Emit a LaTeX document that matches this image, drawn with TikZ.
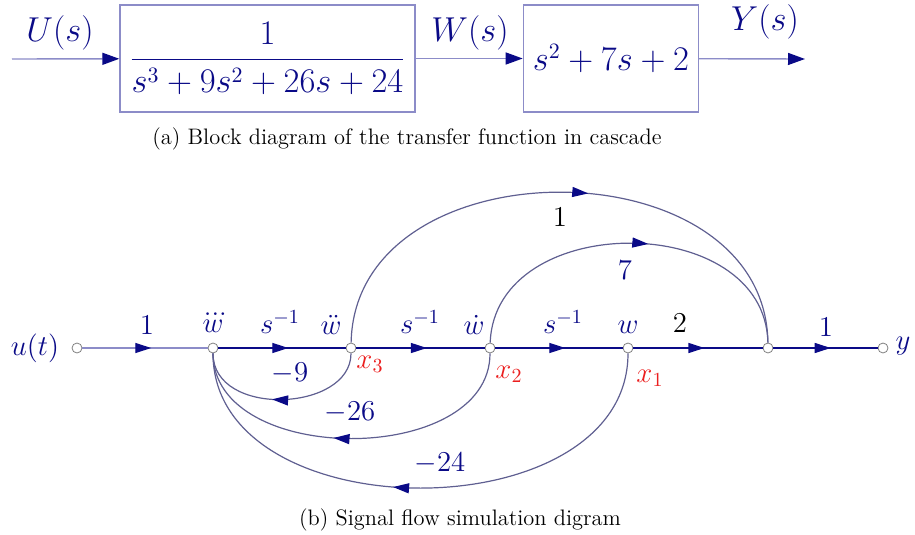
\documentclass[tikz,border=0pt]{standalone}
\usepackage{amsmath}
\usetikzlibrary{arrows.meta,decorations.markings,positioning}
\definecolor{NavyInk}{RGB}{10,10,135}
\definecolor{BoxLine}{RGB}{140,140,200}
\definecolor{ArcLine}{RGB}{95,95,145}
\definecolor{StateRed}{RGB}{235,30,30}
\tikzset{
  blk/.style={draw=BoxLine,line width=0.7pt,minimum height=53.5pt,inner sep=0pt,
              text=NavyInk,font=\fontsize{16}{19}\selectfont},
  sig/.style={circle,draw=gray,fill=white,line width=0.4pt,minimum size=5pt,inner sep=0pt},
  lbl/.style={text=NavyInk,font=\fontsize{14}{16}\selectfont,inner sep=0pt},
  big/.style={text=NavyInk,font=\fontsize{17}{20}\selectfont,inner sep=0pt},
  st/.style={text=StateRed,font=\fontsize{14}{16}\selectfont,inner sep=0pt},
  captxt/.style={font=\fontsize{11.2}{13}\selectfont},
  arr/.style={-{Triangle[length=8.5pt,width=6pt,color=NavyInk]},draw=BoxLine,line width=0.7pt},
  flow/.style={draw=#1,line width=0.6pt,postaction={decorate},
               decoration={markings,mark=at position 0.55 with
               {\arrow{Triangle[length=8pt,width=5pt,color=NavyInk]}}}},
  flow/.default=NavyInk,
}

\begin{document}
\begin{tikzpicture}[x=0.5pt,y=-0.5pt]
\useasboundingbox (0,0) rectangle (915,535);

% (a) cascade of two blocks
\coordinate (in) at (12,59);
\node[blk,minimum width=147.5pt] (den) at (267.5,58.5) {$\dfrac{1}{s^3+9s^2+26s+24}$};
\node[blk,minimum width=87.5pt,right=53.5pt of den] (num) {$s^2+7s+2$};
\coordinate (out) at (805,59);
\draw[arr] (in)--(den);
\draw[arr] (den)--(num);
\draw[arr] (num)--(out);
\node[big] (U) at (60,33) {$U(s)$};
\node[big] (W) at (470,33) {$W(s)$};
\node[big] (Y) at (765,22) {$Y(s)$};
\node[captxt] (capa) at (407,139) {(a) Block diagram of the transfer function in cascade};

% (b) signal flow graph
\node[sig] (u) at (77,348) {};
\node[sig] (n1) at (213,348) {};
\node[sig] (n2) at (351,348) {};
\node[sig] (n3) at (490,348) {};
\node[sig] (n4) at (628,348) {};
\node[sig] (sum) at (768,348) {};
\node[sig] (yo) at (883,348) {};

\draw[flow=BoxLine] (u)--(n1);
\draw[flow] (n1)--(n2);
\draw[flow] (n2)--(n3);
\draw[flow] (n3)--(n4);
\draw[flow] (n4)--(sum);
\draw[flow] (sum)--(yo);

\draw[flow=ArcLine] (n2) .. controls (355,142) and (765,142) .. (sum);
\draw[flow=ArcLine] (n3) .. controls (495,210) and (765,210) .. (sum);
\draw[flow=ArcLine] (n2) .. controls (351,412) and (213,418) .. (n1);
\draw[flow=ArcLine] (n3) .. controls (490,467) and (213,467) .. (n1);
\draw[flow=ArcLine] (n4) .. controls (628,533) and (213,533) .. (n1);

\node[lbl] (lu) at (35,348) {$u(t)$};
\node[lbl] (ly) at (903,346) {$y$};
\node[lbl] (g1) at (147,325) {$1$};
\node[lbl] (lw3) at (213,324) {$\dddot{w}$};
\node[lbl] (g2) at (280,322) {$s^{-1}$};
\node[lbl] (lw2) at (331,325) {$\ddot{w}$};
\node[lbl] (g3) at (420,322) {$s^{-1}$};
\node[lbl] (lw1) at (474,325) {$\dot{w}$};
\node[lbl] (g4) at (563,322) {$s^{-1}$};
\node[lbl] (lw0) at (628,327) {$w$};
\node[lbl,text=black] (g5) at (680,323) {$2$};
\node[lbl] (g6) at (826,327) {$1$};
\node[lbl,text=black] (g7) at (560,217) {$1$};
\node[lbl] (g8) at (625,270) {$7$};
\node[lbl] (g9) at (290,373) {$-9$};
\node[lbl] (g10) at (350,412) {$-26$};
\node[lbl] (g11) at (440,463) {$-24$};
\node[st] (x3) at (370,364) {$x_3$};
\node[st] (x2) at (509,374) {$x_2$};
\node[st] (x1) at (650,378) {$x_1$};
\node[captxt] (capb) at (460,520) {(b) Signal flow simulation digram};
\end{tikzpicture}
\end{document}
